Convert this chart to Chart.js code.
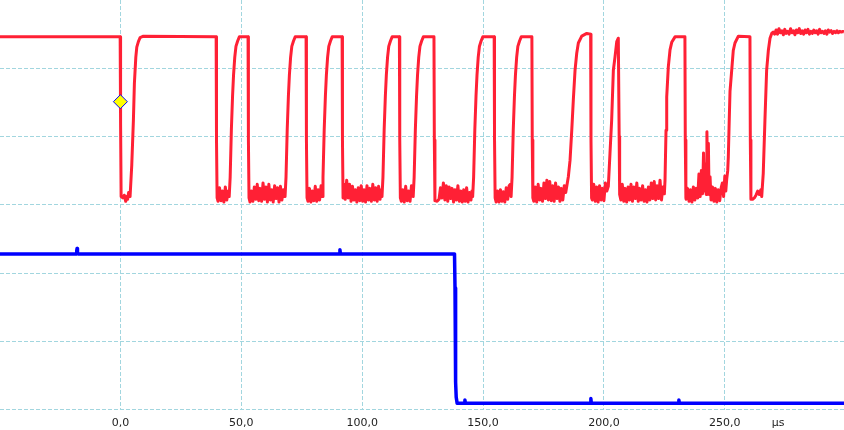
<!DOCTYPE html>
<html>
<head>
<meta charset="utf-8">
<script src="https://cdn.jsdelivr.net/npm/chart.js@4"></script>
<style>
html,body{margin:0;padding:0;background:#fff;}
#wrap{width:844px;height:430px;}
</style>
</head>
<body>
<div id="wrap"><canvas id="c" width="844" height="430"></canvas></div>
<script>
// ---- data (time in µs, level in grid divisions) ----
const xTickValues = [0, 50, 100, 150, 200, 250];
const unitTickValue = 272;
const unitLabel = 'µs';

const redTrace = [
 [-49.8,5.46],[-0.1,5.46],[0.0,5.25],[0.15,4.2],[0.3,3.12],
 [1.0,3.10],[1.6,3.14],[2.2,3.05],[2.6,3.12],[3.0,3.08],[3.4,3.18],[3.8,3.12],
 [4.0,3.12],[4.7,3.58],[5.38,4.24],[5.79,4.78],[6.37,5.16],[6.78,5.31],[7.44,5.39],[8.15,5.45],[9.5,5.47],
 [39.6,5.46],[39.75,3.95],[40.0,3.1],
 [40.4,3.05],[41.0,3.25],[41.6,3.06],[42.2,3.2],[42.8,3.04],[43.4,3.26],[44.0,3.07],[44.6,3.2],
 [45.0,3.12],[45.4,3.4],[45.9,4.1],[46.4,4.6],[46.8,4.9],[47.3,5.16],[47.8,5.32],[48.5,5.4],[49.2,5.46],
 [52.8,5.46],[52.95,3.95],[53.2,3.1],
 [53.6,3.04],[54.2,3.2],[54.8,3.05],[55.4,3.26],[56.0,3.08],[56.6,3.3],[57.2,3.06],[57.8,3.24],[58.4,3.05],[59.0,3.32],[59.6,3.08],[60.2,3.26],[60.8,3.04],[61.4,3.3],[62.0,3.07],[62.6,3.22],[63.2,3.04],[63.8,3.28],[64.4,3.09],[65.0,3.25],[65.6,3.04],[66.2,3.27],[66.8,3.07],[67.4,3.22],[67.9,3.12],
 [68.1,3.12],[68.5,3.4],[69.0,4.1],[69.5,4.6],[69.9,4.9],[70.4,5.16],[70.9,5.32],[71.6,5.4],[72.3,5.46],
 [76.8,5.46],[76.95,3.95],[77.2,3.1],
 [77.6,3.05],[78.2,3.24],[78.8,3.04],[79.4,3.2],[80.0,3.06],[80.6,3.27],[81.2,3.05],[81.8,3.22],[82.4,3.07],[83.0,3.28],
 [83.4,3.12],[83.8,3.4],[84.3,4.1],[84.8,4.6],[85.2,4.9],[85.7,5.16],[86.2,5.32],[86.9,5.4],[87.6,5.46],
 [91.7,5.46],[91.85,3.95],[92.1,3.1],
 [92.4,3.3],[93.0,3.08],[93.6,3.36],[94.2,3.1],[94.8,3.3],[95.4,3.05],[96.0,3.27],[96.6,3.07],[97.2,3.22],[97.8,3.04],[98.4,3.25],[99.0,3.06],[99.6,3.28],[100.2,3.05],[100.8,3.22],[101.4,3.04],[102.0,3.28],[102.6,3.07],[103.2,3.24],[103.8,3.05],[104.4,3.3],[105.0,3.07],[105.6,3.25],[106.2,3.05],[106.8,3.27],[107.4,3.08],[107.9,3.22],
 [108.2,3.12],[108.6,3.4],[109.1,4.1],[109.6,4.6],[110.0,4.9],[110.5,5.16],[111.0,5.32],[111.7,5.4],[112.4,5.46],
 [115.4,5.46],[115.55,3.95],[115.8,3.1],
 [116.2,3.05],[116.8,3.22],[117.4,3.04],[118.0,3.27],[118.6,3.06],[119.2,3.2],[119.8,3.05],[120.4,3.28],[120.9,3.16],
 [121.1,3.12],[121.5,3.4],[122.0,4.1],[122.5,4.6],[122.9,4.9],[123.4,5.16],[123.9,5.32],[124.6,5.4],[125.3,5.46],
 [129.7,5.46],[129.85,3.95],[130.1,3.06],
 [131.0,3.05],[131.8,3.08],[132.4,3.25],[133.0,3.1],[133.6,3.32],[134.2,3.07],[134.8,3.28],[135.4,3.05],[136.0,3.26],[136.6,3.09],[137.2,3.24],[137.8,3.04],[138.4,3.22],[139.0,3.07],[139.6,3.28],[140.2,3.05],[140.8,3.2],[141.4,3.04],[142.0,3.22],[142.6,3.05],[143.2,3.25],[143.8,3.04],[144.4,3.18],[145.0,3.07],[145.4,3.2],
 [145.7,3.12],[146.1,3.4],[146.6,4.1],[147.1,4.6],[147.5,4.9],[148.0,5.16],[148.5,5.32],[149.2,5.4],[149.9,5.46],
 [154.6,5.46],[154.75,3.95],[155.0,3.1],
 [155.4,3.04],[156.0,3.2],[156.6,3.04],[157.2,3.22],[157.8,3.05],[158.4,3.19],[159.0,3.04],[159.6,3.25],[160.2,3.08],[160.8,3.28],[161.3,3.3],
 [161.6,3.12],[162.0,3.4],[162.5,4.1],[163.0,4.6],[163.4,4.9],[163.9,5.16],[164.4,5.32],[165.1,5.4],[165.8,5.46],
 [170.2,5.46],[170.35,3.95],[170.6,3.1],
 [171.0,3.05],[171.6,3.26],[172.2,3.04],[172.8,3.3],[173.4,3.07],[174.0,3.24],[174.6,3.05],[175.2,3.32],[175.8,3.09],[176.4,3.36],[177.0,3.07],[177.6,3.34],[178.2,3.06],[178.8,3.28],[179.4,3.05],[180.0,3.32],[180.6,3.09],[181.2,3.26],[181.8,3.05],[182.4,3.24],[183.0,3.07],[183.6,3.28],[184.2,3.18],
 [185.28,3.41],[185.98,3.65],[186.69,4.09],[187.35,4.54],[188.05,4.97],[188.75,5.22],[189.42,5.37],[190.82,5.47],[192.9,5.51],
 [194.5,5.5],[194.65,3.95],[194.9,3.1],
 [195.2,3.07],[195.8,3.3],[196.4,3.05],[197.0,3.26],[197.6,3.04],[198.2,3.28],[198.8,3.07],[199.4,3.24],[200.0,3.06],[200.6,3.32],[201.2,3.2],
 [201.82,3.27],[202.5,3.75],[203.2,4.24],[203.9,4.97],[204.6,5.17],[205.3,5.39],[205.95,5.44],[206.3,4.0],[206.5,3.15],
 [207.0,3.07],[207.6,3.3],[208.2,3.05],[208.8,3.24],[209.4,3.04],[210.0,3.26],[210.6,3.07],[211.2,3.3],[211.8,3.05],[212.4,3.26],[213.0,3.09],[213.6,3.32],[214.2,3.05],[214.8,3.24],[215.4,3.07],[216.0,3.28],[216.6,3.05],[217.2,3.22],[217.8,3.04],[218.4,3.26],[219.0,3.07],[219.6,3.32],[220.2,3.09],[220.8,3.34],[221.4,3.07],[222.0,3.28],[222.6,3.09],[223.2,3.36],[223.8,3.07],[224.4,3.26],[225.0,3.16],
 [225.27,3.36],[225.68,4.09],[225.97,4.58],[226.63,5.02],[227.34,5.27],[228.04,5.38],[229.4,5.46],
 [233.5,5.46],[233.65,3.95],[233.9,3.1],
 [234.0,3.08],[234.6,3.24],[235.2,3.05],[235.8,3.22],[236.4,3.04],[237.0,3.26],[237.6,3.07],[238.2,3.24],[238.8,3.1],[239.3,3.45],[239.8,3.12],[240.3,3.5],[240.8,3.16],[241.2,3.76],[241.6,3.2],[242.0,3.6],[242.3,3.15],[242.6,4.07],[242.9,3.25],[243.2,3.9],[243.5,3.15],[243.9,3.41],[244.3,3.07],[244.9,3.26],[245.5,3.05],[246.1,3.24],[246.7,3.04],[247.3,3.22],[247.9,3.06],[248.5,3.25],[249.0,3.32],[249.5,3.12],[250.0,3.42],[250.4,3.2],[250.8,3.38],
 [251.2,3.5],[251.45,3.7],[251.8,4.2],[252.15,4.66],[252.85,4.97],[253.5,5.26],[254.2,5.37],[255.6,5.47],
 [260.4,5.46],[260.55,3.95],[260.8,3.08],
 [261.5,3.08],[262.2,3.1],[262.9,3.14],[263.6,3.2],[264.3,3.15],[264.9,3.22],
 [265.26,3.12],[265.9,3.46],[266.6,4.24],[267.3,4.97],[268.0,5.26],[268.7,5.44],[269.4,5.51],
 [270.0,5.53],[270.6,5.5],[271.2,5.56],[271.8,5.5],[272.4,5.58],[273.0,5.52],[273.6,5.55],[274.2,5.49],[274.8,5.57],[275.4,5.51],[276.0,5.54],[276.6,5.5],[277.2,5.58],[277.8,5.52],[278.4,5.55],[279.0,5.49],[279.6,5.56],[280.2,5.52],[280.8,5.58],[281.4,5.51],[282.0,5.55],[282.6,5.5],[283.2,5.56],[283.8,5.52],[284.4,5.57],[285.0,5.5],[285.6,5.54],[286.2,5.51],[286.8,5.56],[287.4,5.52],[288.0,5.55],[288.6,5.5],[289.2,5.57],[289.8,5.52],[290.4,5.54],[291.0,5.51],[291.6,5.55],[292.2,5.5],[292.8,5.56],[293.4,5.53],[294.0,5.55],[294.6,5.51],[295.2,5.54],[295.8,5.52],[296.4,5.55],[297.0,5.52],[297.6,5.54],[298.2,5.53],[298.8,5.54],[299.3,5.53]
];

const blueTrace = [
 [-49.8,2.28],[-18.3,2.28],[-18.05,2.33],[-17.9,2.36],[-17.75,2.3],[-17.5,2.28],
 [90.6,2.28],[90.8,2.34],[91.0,2.28],
 [138.2,2.28],[138.4,1.78],[138.65,0.4],[138.9,0.18],[139.3,0.09],
 [142.3,0.09],[142.5,0.14],[142.7,0.09],
 [194.4,0.09],[194.6,0.16],[194.8,0.09],
 [230.8,0.09],[231.0,0.14],[231.2,0.09],
 [299.3,0.09]
];

const triggerMarker = [[0, 4.51]];

// ---- chart ----
const toXY = arr => arr.map(p => ({x: p[0], y: p[1]}));
const gridColor = '#a2d6df';

new Chart(document.getElementById('c'), {
  type: 'line',
  data: {
    datasets: [
      {
        data: toXY(triggerMarker),
        showLine: false,
        pointStyle: 'rectRot',
        pointRadius: 7,
        pointBackgroundColor: '#ffff00',
        pointBorderColor: '#0000ff',
        pointBorderWidth: 1,
        order: 0
      },
      {
        data: toXY(redTrace),
        borderColor: '#ff2035',
        borderWidth: 3,
        pointRadius: 0,
        tension: 0,
        borderJoinStyle: 'round',
        order: 1
      },
      {
        data: toXY(blueTrace),
        borderColor: '#0000ff',
        borderWidth: 3.5,
        pointRadius: 0,
        tension: 0,
        borderJoinStyle: 'round',
        order: 2
      }
    ]
  },
  options: {
    responsive: false,
    animation: false,
    events: [],
    layout: { autoPadding: false, padding: 0 },
    plugins: { legend: { display: false }, tooltip: { enabled: false } },
    scales: {
      x: {
        type: 'linear',
        min: -49.8,
        max: 299.3,
        afterBuildTicks: axis => {
          axis.ticks = xTickValues.concat([unitTickValue]).map(v => ({ value: v }));
        },
        afterFit: axis => { axis.height = 20.5; },
        grid: {
          drawTicks: false,
          lineWidth: 1,
          color: ctx => (ctx.tick && ctx.tick.value === unitTickValue) ? 'rgba(0,0,0,0)' : gridColor
        },
        border: { display: false, dash: [4, 2] },
        ticks: {
          autoSkip: false,
          maxRotation: 0,
          padding: 7,
          color: '#222',
          font: { family: 'DejaVu Sans', size: 11 },
          callback: v => v === unitTickValue ? unitLabel : v.toFixed(1).replace('.', ',')
        }
      },
      y: {
        type: 'linear',
        min: 0,
        max: 6,
        ticks: { display: false, stepSize: 1 },
        grid: {
          drawTicks: false,
          lineWidth: 1,
          color: ctx => (ctx.tick && ctx.tick.value === 6) ? 'rgba(0,0,0,0)' : gridColor
        },
        border: { display: false, dash: [4, 2] }
      }
    }
  }
});
</script>
</body>
</html>
